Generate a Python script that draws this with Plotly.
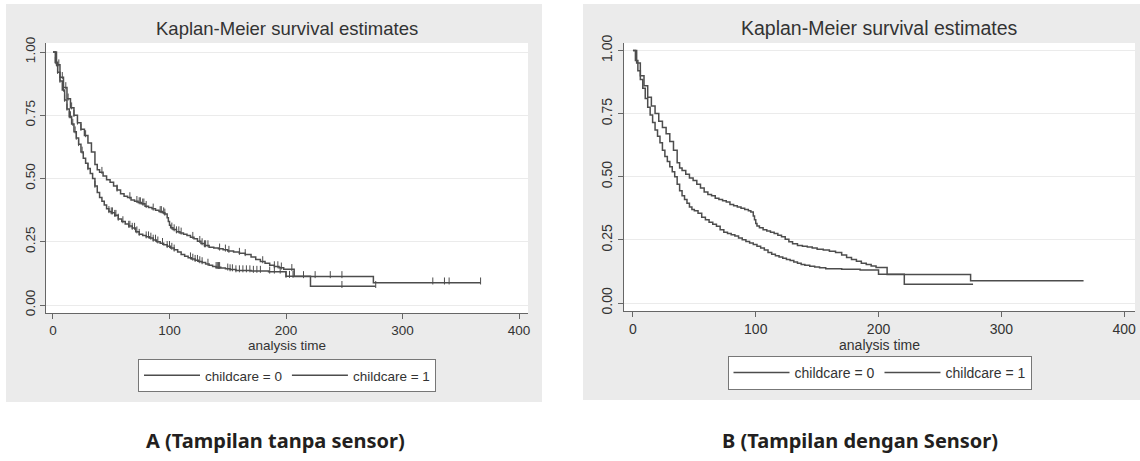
import numpy as np
import plotly.graph_objects as go

W, H = 1140, 461

# ---- data ----
title_text = "Kaplan-Meier survival estimates"
x_title = "analysis time"
group_names = ["childcare = 0", "childcare = 1"]
x_ticks = [0, 100, 200, 300, 400]
y_ticks = [0.0, 0.25, 0.5, 0.75, 1.0]
captions = ["A (Tampilan tanpa sensor)", "B (Tampilan dengan Sensor)"]

# childcare = 1 (upper curve)
c1_time = [0, 3, 6, 9, 12, 15, 18, 21, 24, 27, 30, 33, 36, 38, 40, 43, 46, 49, 52, 55,
           58, 61, 64, 67, 70, 73, 76, 79, 82, 85, 88, 91, 94, 96, 98, 99, 100, 101, 103, 106,
           109, 112, 115, 118, 121, 124, 127, 130, 134, 138, 142, 146, 150, 155, 160, 165, 170, 174, 178, 182,
           186, 190, 194, 198, 207, 275, 367]
c1_surv = [1.0, 0.95, 0.9, 0.86, 0.815, 0.78, 0.75, 0.72, 0.695, 0.67, 0.64, 0.605, 0.555, 0.535, 0.525, 0.51, 0.495, 0.485, 0.47, 0.455,
           0.44, 0.43, 0.425, 0.415, 0.41, 0.405, 0.40, 0.39, 0.385, 0.38, 0.375, 0.37, 0.365, 0.36, 0.345, 0.33, 0.315, 0.305, 0.298, 0.29,
           0.285, 0.28, 0.275, 0.268, 0.262, 0.252, 0.243, 0.235, 0.228, 0.225, 0.222, 0.218, 0.213, 0.21, 0.205, 0.2, 0.19, 0.18, 0.172, 0.165,
           0.157, 0.152, 0.147, 0.141, 0.113, 0.088, 0.088]

# childcare = 0 (lower curve)
c0_time = [0, 2, 4, 6, 8, 10, 12, 14, 16, 18, 20, 22, 24, 26, 28, 30, 32, 34, 36, 38,
           40, 42, 44, 46, 48, 50, 53, 56, 59, 62, 65, 68, 71, 74, 77, 80, 83, 86, 89, 92,
           95, 98, 101, 104, 107, 110, 113, 116, 119, 122, 125, 128, 131, 134, 137, 140, 144, 148, 152, 157,
           170, 185, 200, 221, 277]
c0_surv = [1.0, 0.96, 0.92, 0.885, 0.85, 0.81, 0.775, 0.745, 0.715, 0.685, 0.66, 0.635, 0.605, 0.58, 0.56, 0.54, 0.52, 0.5, 0.47, 0.445,
           0.425, 0.41, 0.395, 0.38, 0.37, 0.365, 0.355, 0.34, 0.33, 0.32, 0.312, 0.304, 0.29, 0.28, 0.275, 0.27, 0.265, 0.257, 0.25, 0.244,
           0.238, 0.232, 0.225, 0.218, 0.21, 0.2, 0.193, 0.187, 0.182, 0.177, 0.172, 0.168, 0.162, 0.157, 0.152, 0.149, 0.146, 0.143, 0.14, 0.136,
           0.134, 0.131, 0.114, 0.074, 0.074]

# censoring times (shown only in panel A)
c1_censor = [3, 5, 8, 11, 13, 16, 18, 21, 24, 28, 42, 55, 66, 72, 74, 75, 77, 78, 80, 86,
             92, 93, 95, 96, 102, 104, 106, 108, 110, 120, 126, 128, 130, 131, 133, 143, 148, 151, 160, 165,
             180, 190, 193, 196, 205, 215, 225, 238, 248, 326, 336, 340, 367]
c0_censor = [2, 4, 6, 9, 10, 12, 14, 15, 17, 19, 20, 22, 25, 30, 36, 48, 50, 51, 53, 54,
             56, 60, 65, 66, 68, 70, 72, 74, 80, 82, 84, 86, 88, 90, 94, 98, 100, 102, 104, 118,
             120, 122, 124, 126, 128, 133, 140, 141, 142, 143, 150, 152, 154, 157, 160, 163, 166, 169, 172, 175,
             178, 186, 190, 195, 200, 203, 206, 248, 277]


def step_value(times, surv, at):
    t = np.asarray(times, float)
    s = np.asarray(surv, float)
    idx = np.searchsorted(t, np.asarray(at, float), side="right") - 1
    return s[np.clip(idx, 0, len(s) - 1)]


LINE = "#4d4d4d"
FONT = "Liberation Sans, Arial, sans-serif"

fig = go.Figure()

# panel geometry in pixels
panels = [
    dict(bg=(6, 4, 542, 402), plot=(46, 43, 528, 313), xr=[-6.0, 407.7], yr=[-0.0316, 1.0356],
         leg_top=359, title_y=29, fs_title=18.5, fs_tick=13.5, fs_leg=13.5, cap_x=275, censor=True),
    dict(bg=(583, 4, 1140, 400), plot=(624, 43, 1135, 311), xr=[-7.3, 408.9], yr=[-0.0317, 1.0297],
         leg_top=356, title_y=28, fs_title=19.5, fs_tick=14, fs_leg=14, cap_x=860, censor=False),
]

shapes = []
annotations = []
layout_axes = {}
for i, p in enumerate(panels):
    n = "" if i == 0 else str(i + 1)
    xa, ya = "x" + n, "y" + n
    legname = "legend" + n
    x0, y0, x1, y1 = p["plot"]
    bx0, by0, bx1, by1 = p["bg"]
    shapes.append(dict(type="rect", xref="paper", yref="paper", layer="below",
                       x0=bx0 / W, x1=bx1 / W, y0=1 - by1 / H, y1=1 - by0 / H,
                       fillcolor="#ebebeb", line=dict(width=0)))
    shapes.append(dict(type="rect", xref=xa + " domain", yref=ya + " domain", layer="below",
                       x0=0, x1=1, y0=0, y1=1, fillcolor="white", line=dict(width=0)))

    for name, tt, ss, cc in [(group_names[0], c0_time, c0_surv, c0_censor),
                             (group_names[1], c1_time, c1_surv, c1_censor)]:
        fig.add_trace(go.Scatter(x=tt, y=ss, mode="lines", line=dict(color=LINE, width=1.5, shape="hv"),
                                 name=name, xaxis=xa, yaxis=ya, legend=legname, hoverinfo="skip"))
        if p["censor"]:
            fig.add_trace(go.Scatter(x=cc, y=step_value(tt, ss, cc) + 0.007, mode="markers",
                                     marker=dict(symbol="line-ns", size=5, line=dict(color=LINE, width=1)),
                                     showlegend=False, xaxis=xa, yaxis=ya, hoverinfo="skip"))

    axis_common = dict(showline=True, linecolor="#666666", linewidth=1, ticks="outside", ticklen=5,
                       tickcolor="#666666", tickfont=dict(family=FONT, size=p["fs_tick"], color="#333333"),
                       zeroline=False, automargin=False)
    layout_axes["xaxis" + n] = dict(axis_common, domain=[x0 / W, x1 / W], range=p["xr"], tickvals=x_ticks,
                                    showgrid=False, anchor=ya,
                                    title=dict(text=x_title, standoff=0,
                                               font=dict(family=FONT, size=p["fs_leg"], color="#333333")))
    layout_axes["yaxis" + n] = dict(axis_common, domain=[1 - y1 / H, 1 - y0 / H], range=p["yr"], tickvals=y_ticks,
                                    tickformat=".2f", tickangle=-90, showgrid=True, gridcolor="#ebebeb",
                                    gridwidth=1, anchor=xa)
    layout_axes[legname] = dict(orientation="h", x=(x0 + x1) / 2 / W, xanchor="center",
                                y=1 - p["leg_top"] / H, yanchor="top", bgcolor="white",
                                bordercolor="#777777", borderwidth=1, itemwidth=56,
                                font=dict(family=FONT, size=p["fs_leg"], color="#333333"))
    annotations.append(dict(text=title_text, xref="paper", yref="paper", x=(x0 + x1) / 2 / W,
                            y=1 - p["title_y"] / H, xanchor="center", yanchor="middle", showarrow=False,
                            font=dict(family=FONT, size=p["fs_title"], color="#333333")))
    annotations.append(dict(text="<b>" + captions[i] + "</b>", xref="paper", yref="paper", x=p["cap_x"] / W,
                            y=1 - 440 / H, xanchor="center", yanchor="middle", showarrow=False,
                            font=dict(family="Noto Sans, Open Sans, sans-serif", size=20, color="#231f20")))

fig.update_layout(width=W, height=H, margin=dict(l=0, r=0, t=0, b=0, pad=0, autoexpand=False),
                  paper_bgcolor="white", plot_bgcolor="white", shapes=shapes, annotations=annotations,
                  **layout_axes)

fig.write_html("out.html", config={"displayModeBar": False},
               post_script="document.documentElement.style.margin='0';"
                           "document.body.style.margin='0';document.body.style.padding='0';"
                           "var gd=document.getElementById('{plot_id}');"
                           "gd.style.position='absolute';gd.style.left='0px';gd.style.top='0px';")
